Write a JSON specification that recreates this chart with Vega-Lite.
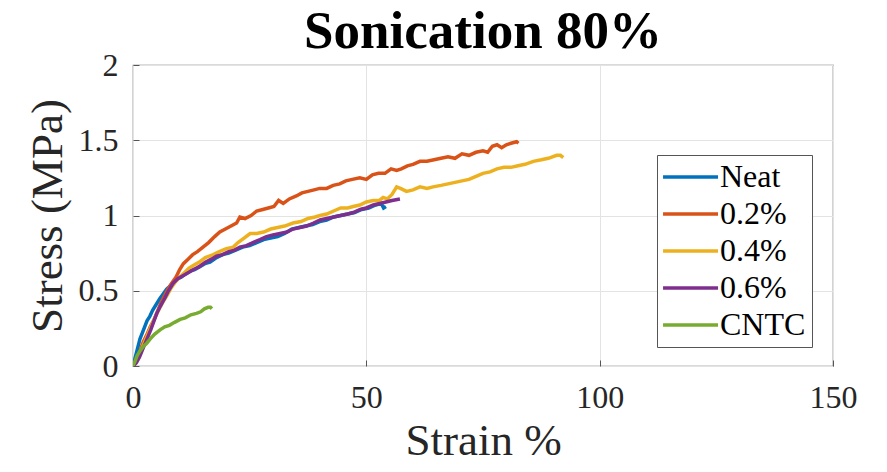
{
  "$schema": "https://vega.github.io/schema/vega-lite/v6.json",
  "width": 700,
  "height": 301,
  "autosize": "none",
  "padding": {"left": 133, "top": 65, "right": 54, "bottom": 106},
  "background": "white",
  "title": {
    "text": "Sonication 80%",
    "font": "Liberation Serif",
    "fontSize": 53,
    "fontWeight": "bold",
    "color": "black",
    "anchor": "middle",
    "offset": -10
  },
  "config": {
    "font": "Liberation Serif",
    "view": {"stroke": "#6e6e6e", "strokeWidth": 1.2},
    "style": {"guide-label": {"font": "Liberation Serif"}, "guide-title": {"font": "Liberation Serif"}},
    "axis": {
      "labelFont": "Liberation Serif",
      "labelFontSize": 32,
      "labelColor": "#262626",
      "labelFlush": false,
      "titleFont": "Liberation Serif",
      "titleFontWeight": "normal",
      "titleColor": "#262626",
      "gridColor": "#e3e3e3",
      "gridWidth": 1,
      "domain": false,
      "tickColor": "#555555",
      "tickSize": -6,
      "tickWidth": 1
    },
    "legend": {
      "orient": "none",
      "legendX": 524,
      "legendY": 90,
      "strokeColor": "#555555",
      "fillColor": "white",
      "padding": 6,
      "labelFont": "Liberation Serif",
      "labelFontSize": 32,
      "labelColor": "black",
      "labelOffset": 25,
      "rowPadding": 5,
      "symbolType": "M-1.45,0H3.55",
      "symbolSize": 484,
      "symbolStrokeWidth": 3.5,
      "title": null
    }
  },
  "data": {
    "values": [
      {"s":"Neat","x":0,"y":0},{"s":"Neat","x":0.5,"y":0.06},{"s":"Neat","x":1,"y":0.12},{"s":"Neat","x":1.5,"y":0.18},{"s":"Neat","x":2,"y":0.22},{"s":"Neat","x":2.5,"y":0.26},{"s":"Neat","x":3,"y":0.3},{"s":"Neat","x":3.6,"y":0.33},{"s":"Neat","x":4.2,"y":0.37},{"s":"Neat","x":5,"y":0.41},{"s":"Neat","x":5.8,"y":0.45},{"s":"Neat","x":6.5,"y":0.48},{"s":"Neat","x":7.2,"y":0.51},{"s":"Neat","x":7.9,"y":0.53},{"s":"Neat","x":8.7,"y":0.56},{"s":"Neat","x":9.5,"y":0.58},{"s":"Neat","x":10.3,"y":0.59},{"s":"Neat","x":11.2,"y":0.61},{"s":"Neat","x":12.2,"y":0.63},{"s":"Neat","x":13.2,"y":0.64},{"s":"Neat","x":14.3,"y":0.66},{"s":"Neat","x":15.4,"y":0.68},{"s":"Neat","x":16.5,"y":0.69},{"s":"Neat","x":17.9,"y":0.72},{"s":"Neat","x":19.2,"y":0.74},{"s":"Neat","x":20.5,"y":0.75},{"s":"Neat","x":22,"y":0.77},{"s":"Neat","x":23.5,"y":0.79},{"s":"Neat","x":25,"y":0.8},{"s":"Neat","x":26.5,"y":0.82},{"s":"Neat","x":28,"y":0.84},{"s":"Neat","x":29.5,"y":0.85},{"s":"Neat","x":31,"y":0.86},{"s":"Neat","x":32.5,"y":0.88},{"s":"Neat","x":34,"y":0.91},{"s":"Neat","x":35.5,"y":0.92},{"s":"Neat","x":37,"y":0.93},{"s":"Neat","x":38.5,"y":0.94},{"s":"Neat","x":40,"y":0.96},{"s":"Neat","x":41.5,"y":0.97},{"s":"Neat","x":43,"y":0.99},{"s":"Neat","x":44.5,"y":1.0},{"s":"Neat","x":46,"y":1.01},{"s":"Neat","x":47.5,"y":1.02},{"s":"Neat","x":49,"y":1.04},{"s":"Neat","x":50.5,"y":1.05},{"s":"Neat","x":52,"y":1.07},{"s":"Neat","x":53.2,"y":1.08},{"s":"Neat","x":53.7,"y":1.05},{"s":"Neat","x":54.2,"y":1.06},
      {"s":"0.2%","x":0,"y":0},{"s":"0.2%","x":0.8,"y":0.05},{"s":"0.2%","x":1.5,"y":0.1},{"s":"0.2%","x":2.2,"y":0.16},{"s":"0.2%","x":3,"y":0.21},{"s":"0.2%","x":3.7,"y":0.26},{"s":"0.2%","x":4.4,"y":0.3},{"s":"0.2%","x":5.2,"y":0.36},{"s":"0.2%","x":6,"y":0.42},{"s":"0.2%","x":6.8,"y":0.47},{"s":"0.2%","x":7.5,"y":0.51},{"s":"0.2%","x":8.3,"y":0.55},{"s":"0.2%","x":9.2,"y":0.59},{"s":"0.2%","x":10,"y":0.64},{"s":"0.2%","x":10.8,"y":0.68},{"s":"0.2%","x":11.8,"y":0.71},{"s":"0.2%","x":12.8,"y":0.74},{"s":"0.2%","x":13.8,"y":0.76},{"s":"0.2%","x":15,"y":0.79},{"s":"0.2%","x":16.2,"y":0.82},{"s":"0.2%","x":17.5,"y":0.86},{"s":"0.2%","x":18.6,"y":0.89},{"s":"0.2%","x":19.8,"y":0.91},{"s":"0.2%","x":21,"y":0.93},{"s":"0.2%","x":22.2,"y":0.95},{"s":"0.2%","x":22.9,"y":0.99},{"s":"0.2%","x":24,"y":0.98},{"s":"0.2%","x":25.3,"y":1.0},{"s":"0.2%","x":26.5,"y":1.03},{"s":"0.2%","x":27.8,"y":1.04},{"s":"0.2%","x":29,"y":1.05},{"s":"0.2%","x":30.2,"y":1.06},{"s":"0.2%","x":31.2,"y":1.1},{"s":"0.2%","x":32.2,"y":1.08},{"s":"0.2%","x":33.5,"y":1.11},{"s":"0.2%","x":35,"y":1.13},{"s":"0.2%","x":36.2,"y":1.15},{"s":"0.2%","x":37.5,"y":1.16},{"s":"0.2%","x":38.8,"y":1.17},{"s":"0.2%","x":40,"y":1.18},{"s":"0.2%","x":41.5,"y":1.18},{"s":"0.2%","x":42.9,"y":1.2},{"s":"0.2%","x":44.3,"y":1.21},{"s":"0.2%","x":45.6,"y":1.23},{"s":"0.2%","x":47,"y":1.24},{"s":"0.2%","x":48.6,"y":1.25},{"s":"0.2%","x":50,"y":1.24},{"s":"0.2%","x":51.3,"y":1.27},{"s":"0.2%","x":52.6,"y":1.28},{"s":"0.2%","x":54,"y":1.28},{"s":"0.2%","x":55.3,"y":1.31},{"s":"0.2%","x":56.5,"y":1.3},{"s":"0.2%","x":57.5,"y":1.31},{"s":"0.2%","x":58.8,"y":1.33},{"s":"0.2%","x":60,"y":1.34},{"s":"0.2%","x":61.5,"y":1.36},{"s":"0.2%","x":63,"y":1.36},{"s":"0.2%","x":64.5,"y":1.37},{"s":"0.2%","x":66,"y":1.38},{"s":"0.2%","x":67.5,"y":1.39},{"s":"0.2%","x":69,"y":1.38},{"s":"0.2%","x":70.5,"y":1.41},{"s":"0.2%","x":72,"y":1.4},{"s":"0.2%","x":73.5,"y":1.42},{"s":"0.2%","x":75,"y":1.43},{"s":"0.2%","x":76,"y":1.42},{"s":"0.2%","x":77,"y":1.46},{"s":"0.2%","x":78,"y":1.47},{"s":"0.2%","x":79,"y":1.45},{"s":"0.2%","x":80,"y":1.47},{"s":"0.2%","x":81,"y":1.48},{"s":"0.2%","x":82.2,"y":1.49},{"s":"0.2%","x":82.6,"y":1.48},
      {"s":"0.4%","x":0,"y":0},{"s":"0.4%","x":0.5,"y":0.02},{"s":"0.4%","x":1,"y":0.05},{"s":"0.4%","x":1.7,"y":0.1},{"s":"0.4%","x":2.5,"y":0.16},{"s":"0.4%","x":3.3,"y":0.22},{"s":"0.4%","x":4.1,"y":0.28},{"s":"0.4%","x":5,"y":0.34},{"s":"0.4%","x":5.8,"y":0.39},{"s":"0.4%","x":6.5,"y":0.43},{"s":"0.4%","x":7.3,"y":0.47},{"s":"0.4%","x":8.2,"y":0.52},{"s":"0.4%","x":9.1,"y":0.56},{"s":"0.4%","x":10,"y":0.59},{"s":"0.4%","x":11,"y":0.62},{"s":"0.4%","x":12,"y":0.65},{"s":"0.4%","x":13,"y":0.67},{"s":"0.4%","x":14.2,"y":0.69},{"s":"0.4%","x":15.5,"y":0.72},{"s":"0.4%","x":17.2,"y":0.74},{"s":"0.4%","x":18.5,"y":0.76},{"s":"0.4%","x":20,"y":0.78},{"s":"0.4%","x":21.5,"y":0.79},{"s":"0.4%","x":22.5,"y":0.82},{"s":"0.4%","x":23.8,"y":0.85},{"s":"0.4%","x":25.1,"y":0.88},{"s":"0.4%","x":26.5,"y":0.88},{"s":"0.4%","x":28,"y":0.89},{"s":"0.4%","x":29.5,"y":0.91},{"s":"0.4%","x":31,"y":0.92},{"s":"0.4%","x":32.5,"y":0.93},{"s":"0.4%","x":34.3,"y":0.95},{"s":"0.4%","x":36,"y":0.96},{"s":"0.4%","x":37.5,"y":0.98},{"s":"0.4%","x":39,"y":0.99},{"s":"0.4%","x":40.1,"y":1.0},{"s":"0.4%","x":41.5,"y":1.01},{"s":"0.4%","x":43,"y":1.03},{"s":"0.4%","x":44.5,"y":1.05},{"s":"0.4%","x":46,"y":1.05},{"s":"0.4%","x":47.2,"y":1.06},{"s":"0.4%","x":48.6,"y":1.07},{"s":"0.4%","x":50,"y":1.09},{"s":"0.4%","x":51.5,"y":1.1},{"s":"0.4%","x":52.8,"y":1.1},{"s":"0.4%","x":53.6,"y":1.12},{"s":"0.4%","x":54.5,"y":1.11},{"s":"0.4%","x":55.5,"y":1.14},{"s":"0.4%","x":56.5,"y":1.19},{"s":"0.4%","x":57.3,"y":1.18},{"s":"0.4%","x":58.6,"y":1.16},{"s":"0.4%","x":60,"y":1.17},{"s":"0.4%","x":61.5,"y":1.19},{"s":"0.4%","x":63,"y":1.18},{"s":"0.4%","x":64.3,"y":1.19},{"s":"0.4%","x":66,"y":1.2},{"s":"0.4%","x":67.5,"y":1.21},{"s":"0.4%","x":69,"y":1.22},{"s":"0.4%","x":70.5,"y":1.23},{"s":"0.4%","x":72,"y":1.24},{"s":"0.4%","x":73.5,"y":1.26},{"s":"0.4%","x":75,"y":1.28},{"s":"0.4%","x":76.5,"y":1.29},{"s":"0.4%","x":78,"y":1.31},{"s":"0.4%","x":79.5,"y":1.32},{"s":"0.4%","x":81,"y":1.32},{"s":"0.4%","x":82.5,"y":1.33},{"s":"0.4%","x":84,"y":1.34},{"s":"0.4%","x":85.8,"y":1.36},{"s":"0.4%","x":87.5,"y":1.37},{"s":"0.4%","x":89,"y":1.38},{"s":"0.4%","x":90.8,"y":1.4},{"s":"0.4%","x":91.6,"y":1.4},{"s":"0.4%","x":92.2,"y":1.385},
      {"s":"0.6%","x":0,"y":0},{"s":"0.6%","x":0.7,"y":0.02},{"s":"0.6%","x":1.4,"y":0.06},{"s":"0.6%","x":2.2,"y":0.12},{"s":"0.6%","x":3,"y":0.18},{"s":"0.6%","x":3.8,"y":0.24},{"s":"0.6%","x":4.5,"y":0.3},{"s":"0.6%","x":5.1,"y":0.35},{"s":"0.6%","x":5.9,"y":0.4},{"s":"0.6%","x":6.8,"y":0.45},{"s":"0.6%","x":7.6,"y":0.5},{"s":"0.6%","x":8.6,"y":0.55},{"s":"0.6%","x":9.6,"y":0.58},{"s":"0.6%","x":10.7,"y":0.6},{"s":"0.6%","x":11.8,"y":0.62},{"s":"0.6%","x":12.9,"y":0.64},{"s":"0.6%","x":14.2,"y":0.66},{"s":"0.6%","x":15.5,"y":0.69},{"s":"0.6%","x":16.8,"y":0.71},{"s":"0.6%","x":17.9,"y":0.73},{"s":"0.6%","x":19.2,"y":0.74},{"s":"0.6%","x":20.5,"y":0.76},{"s":"0.6%","x":21.8,"y":0.77},{"s":"0.6%","x":22.9,"y":0.79},{"s":"0.6%","x":24.3,"y":0.8},{"s":"0.6%","x":25.7,"y":0.82},{"s":"0.6%","x":27.2,"y":0.84},{"s":"0.6%","x":28.6,"y":0.86},{"s":"0.6%","x":30,"y":0.87},{"s":"0.6%","x":31.5,"y":0.88},{"s":"0.6%","x":33,"y":0.89},{"s":"0.6%","x":34.3,"y":0.91},{"s":"0.6%","x":35.8,"y":0.92},{"s":"0.6%","x":37.2,"y":0.93},{"s":"0.6%","x":38.7,"y":0.95},{"s":"0.6%","x":40.1,"y":0.97},{"s":"0.6%","x":41.5,"y":0.98},{"s":"0.6%","x":43,"y":0.99},{"s":"0.6%","x":44.5,"y":1.0},{"s":"0.6%","x":46,"y":1.01},{"s":"0.6%","x":47.2,"y":1.02},{"s":"0.6%","x":48.7,"y":1.04},{"s":"0.6%","x":50,"y":1.05},{"s":"0.6%","x":51.5,"y":1.07},{"s":"0.6%","x":52.9,"y":1.08},{"s":"0.6%","x":54.2,"y":1.09},{"s":"0.6%","x":55.5,"y":1.1},{"s":"0.6%","x":57.2,"y":1.11},
      {"s":"CNTC","x":0,"y":0},{"s":"CNTC","x":0.4,"y":0.03},{"s":"CNTC","x":0.9,"y":0.07},{"s":"CNTC","x":1.5,"y":0.1},{"s":"CNTC","x":2.2,"y":0.13},{"s":"CNTC","x":2.9,"y":0.15},{"s":"CNTC","x":3.7,"y":0.18},{"s":"CNTC","x":4.6,"y":0.21},{"s":"CNTC","x":5.8,"y":0.24},{"s":"CNTC","x":6.8,"y":0.26},{"s":"CNTC","x":7.8,"y":0.27},{"s":"CNTC","x":8.9,"y":0.29},{"s":"CNTC","x":10.1,"y":0.31},{"s":"CNTC","x":11.2,"y":0.32},{"s":"CNTC","x":12.4,"y":0.34},{"s":"CNTC","x":13.6,"y":0.35},{"s":"CNTC","x":14.5,"y":0.36},{"s":"CNTC","x":15.3,"y":0.38},{"s":"CNTC","x":16.1,"y":0.39},{"s":"CNTC","x":16.6,"y":0.39},{"s":"CNTC","x":16.9,"y":0.38}
    ]
  },
  "mark": {"type": "line", "strokeWidth": 3.5, "clip": true},
  "encoding": {
    "x": {
      "field": "x", "type": "quantitative",
      "scale": {"domain": [0, 150], "nice": false},
      "axis": {"values": [0, 50, 100, 150], "format": "~r", "labelFont": "Liberation Serif", "title": "Strain %", "titleFontSize": 45, "labelPadding": 22, "titlePadding": 5}
    },
    "y": {
      "field": "y", "type": "quantitative",
      "scale": {"domain": [0, 2], "nice": false},
      "axis": {"values": [0, 0.5, 1, 1.5, 2], "format": "~r", "labelFont": "Liberation Serif", "title": "Stress (MPa)", "titleFontSize": 45, "labelPadding": 21, "titlePadding": 8}
    },
    "color": {
      "field": "s", "type": "nominal",
      "scale": {"domain": ["Neat", "0.2%", "0.4%", "0.6%", "CNTC"], "range": ["#0072BD", "#D95319", "#EDB120", "#7E2F8E", "#77AC30"]},
      "legend": {"labelFont": "Liberation Serif"}
    },
    "order": {"field": "x", "type": "quantitative"}
  }
}
